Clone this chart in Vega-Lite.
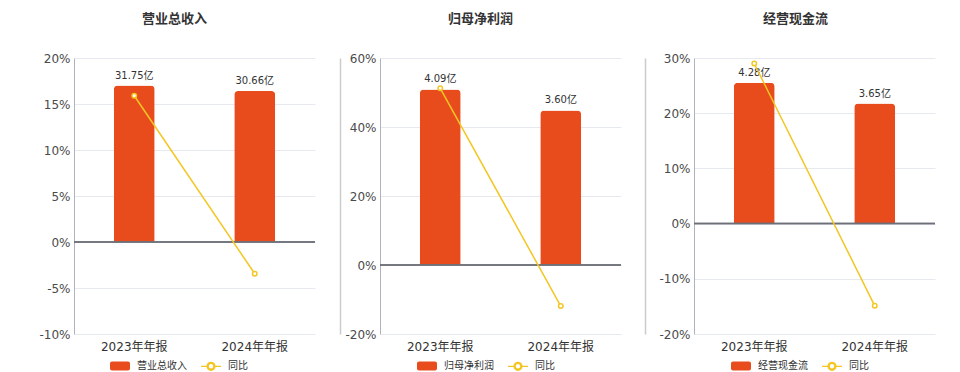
{
  "$schema": "https://vega.github.io/schema/vega-lite/v6.json",
  "autosize": {"type": "pad"},
  "padding": {"left": 38, "top": 13, "right": 0, "bottom": 0},
  "config": {
    "font": "DejaVu Sans, Noto Sans CJK SC",
    "view": {"stroke": null},
    "concat": {"spacing": 4}
  },
  "resolve": {"scale": {"color": "independent", "x": "independent", "y": "independent"}, "legend": {"color": "independent"}},
  "hconcat": [
    {
      "title": {"text": "营业总收入", "fontSize": 13, "fontWeight": "bold", "color": "#333", "offset": 26, "dx": -20},
      "width": 241, "height": 276,
      "data": {"values": [
        {"period": "2023年年报", "value": 31.75, "label": "31.75亿", "yoy": 15.9, "series": "营业总收入"},
        {"period": "2024年年报", "value": 30.66, "label": "30.66亿", "yoy": -3.45, "series": "营业总收入"}
      ]},
      "resolve": {"scale": {"y": "independent"}},
      "layer": [
        {"layer": [
          {
            "mark": {"type": "bar", "cornerRadiusTopLeft": 4, "cornerRadiusTopRight": 4, "width": {"band": 0.34}},
            "encoding": {
              "x": {"field": "period", "type": "nominal", "scale": {"paddingInner": 0, "paddingOuter": 0}, "axis": {"orient": "bottom", "title": null, "labelAngle": 0, "labelFontSize": 12, "labelColor": "#333", "labelPadding": 7, "domain": false, "ticks": false, "grid": false}},
              "y": {"field": "value", "type": "quantitative", "scale": {"domain": [-18.68, 37.35], "nice": false, "zero": false}, "axis": {"orient": "right", "labels": false, "ticks": false, "grid": false, "domain": true, "domainColor": "#cccccc", "domainWidth": 1.5, "offset": 25, "title": null}},
              "color": {
                "field": "series", "type": "nominal",
                "scale": {"domain": ["营业总收入", "同比"], "range": ["#e84c1d", "#f3c623"]},
                "legend": {
                  "orient": "none", "legendX": 35, "legendY": 297, "direction": "horizontal", "title": null,
                  "labelFontSize": 10, "labelColor": "#333", "symbolSize": 400, "labelOffset": 6, "columnPadding": 11, "padding": 0,
                  "encode": {
                    "symbols": {
                      "update": {
                        "shape": {"signal": "datum.label === '同比' ? 'M-1,0H-0.42M0.42,0H1M0.4,0A0.4,0.4,0,1,1,-0.4,0A0.4,0.4,0,1,1,0.4,0ZM0.28,0A0.28,0.28,0,1,0,-0.28,0A0.28,0.28,0,1,0,0.28,0Z' : 'M-0.8,-0.45H0.8A0.2,0.2,0,0,1,1,-0.25V0.25A0.2,0.2,0,0,1,0.8,0.45H-0.8A0.2,0.2,0,0,1,-1,0.25V-0.25A0.2,0.2,0,0,1,-0.8,-0.45Z'"},
                        "fill": {"signal": "datum.label === '同比' ? '#f3c623' : '#e84c1d'"},
                        "stroke": {"signal": "datum.label === '同比' ? '#f3c623' : 'transparent'"},
                        "strokeWidth": {"value": 1.2},
                        "opacity": {"value": 1}
                      }
                    }
                  }
                }
              }
            }
          },
          {
            "mark": {"type": "text", "baseline": "bottom", "dy": -5, "fontSize": 10, "color": "#333"},
            "encoding": {
              "x": {"field": "period", "type": "nominal"},
              "y": {"field": "value", "type": "quantitative"},
              "text": {"field": "label"}
            }
          }
        ]},
        {"layer": [
          {
            "mark": {"type": "rule", "color": "#6e7079", "strokeWidth": 1.5},
            "encoding": {
              "y": {
                "datum": 0, "type": "quantitative",
                "scale": {"domain": [-10, 20], "nice": false},
                "axis": {"orient": "left", "values": [-10, -5, 0, 5, 10, 15, 20], "labelExpr": "datum.value + '%'", "labelFontSize": 12, "labelColor": "#4a4a4a", "labelPadding": 4, "ticks": false, "domain": true, "domainColor": "#b0b3bd", "grid": true, "gridColor": "#e6e9f0", "title": null, "minExtent": 36, "maxExtent": 36}
              }
            }
          },
          {
            "mark": {"type": "line", "color": "#f3c623", "strokeWidth": 1.5},
            "encoding": {
              "x": {"field": "period", "type": "nominal"},
              "y": {"field": "yoy", "type": "quantitative"}
            }
          },
          {
            "mark": {"type": "point", "shape": "circle", "filled": true, "fill": "#ffffff", "stroke": "#f3c623", "strokeWidth": 1.5, "size": 20, "opacity": 1},
            "encoding": {
              "x": {"field": "period", "type": "nominal"},
              "y": {"field": "yoy", "type": "quantitative"}
            }
          }
        ]}
      ]
    },
    {
      "title": {"text": "归母净利润", "fontSize": 13, "fontWeight": "bold", "color": "#333", "offset": 26, "dx": -20},
      "width": 241, "height": 276,
      "data": {"values": [
        {"period": "2023年年报", "value": 4.09, "label": "4.09亿", "yoy": 51.2, "series": "归母净利润"},
        {"period": "2024年年报", "value": 3.60, "label": "3.60亿", "yoy": -11.9, "series": "归母净利润"}
      ]},
      "resolve": {"scale": {"y": "independent"}},
      "layer": [
        {"layer": [
          {
            "mark": {"type": "bar", "cornerRadiusTopLeft": 4, "cornerRadiusTopRight": 4, "width": {"band": 0.34}},
            "encoding": {
              "x": {"field": "period", "type": "nominal", "scale": {"paddingInner": 0, "paddingOuter": 0}, "axis": {"orient": "bottom", "title": null, "labelAngle": 0, "labelFontSize": 12, "labelColor": "#333", "labelPadding": 7, "domain": false, "ticks": false, "grid": false}},
              "y": {"field": "value", "type": "quantitative", "scale": {"domain": [-1.607, 4.821], "nice": false, "zero": false}, "axis": {"orient": "right", "labels": false, "ticks": false, "grid": false, "domain": true, "domainColor": "#cccccc", "domainWidth": 1.5, "offset": 24, "title": null}},
              "color": {
                "field": "series", "type": "nominal",
                "scale": {"domain": ["归母净利润", "同比"], "range": ["#e84c1d", "#f3c623"]},
                "legend": {
                  "orient": "none", "legendX": 36, "legendY": 297, "direction": "horizontal", "title": null,
                  "labelFontSize": 10, "labelColor": "#333", "symbolSize": 400, "labelOffset": 6, "columnPadding": 11, "padding": 0,
                  "encode": {
                    "symbols": {
                      "update": {
                        "shape": {"signal": "datum.label === '同比' ? 'M-1,0H-0.42M0.42,0H1M0.4,0A0.4,0.4,0,1,1,-0.4,0A0.4,0.4,0,1,1,0.4,0ZM0.28,0A0.28,0.28,0,1,0,-0.28,0A0.28,0.28,0,1,0,0.28,0Z' : 'M-0.8,-0.45H0.8A0.2,0.2,0,0,1,1,-0.25V0.25A0.2,0.2,0,0,1,0.8,0.45H-0.8A0.2,0.2,0,0,1,-1,0.25V-0.25A0.2,0.2,0,0,1,-0.8,-0.45Z'"},
                        "fill": {"signal": "datum.label === '同比' ? '#f3c623' : '#e84c1d'"},
                        "stroke": {"signal": "datum.label === '同比' ? '#f3c623' : 'transparent'"},
                        "strokeWidth": {"value": 1.2},
                        "opacity": {"value": 1}
                      }
                    }
                  }
                }
              }
            }
          },
          {
            "mark": {"type": "text", "baseline": "bottom", "dy": -5, "fontSize": 10, "color": "#333"},
            "encoding": {
              "x": {"field": "period", "type": "nominal"},
              "y": {"field": "value", "type": "quantitative"},
              "text": {"field": "label"}
            }
          }
        ]},
        {"layer": [
          {
            "mark": {"type": "rule", "color": "#6e7079", "strokeWidth": 1.5},
            "encoding": {
              "y": {
                "datum": 0, "type": "quantitative",
                "scale": {"domain": [-20, 60], "nice": false},
                "axis": {"orient": "left", "values": [-20, 0, 20, 40, 60], "labelExpr": "datum.value + '%'", "labelFontSize": 12, "labelColor": "#4a4a4a", "labelPadding": 4, "ticks": false, "domain": true, "domainColor": "#b0b3bd", "grid": true, "gridColor": "#e6e9f0", "title": null, "minExtent": 36, "maxExtent": 36}
              }
            }
          },
          {
            "mark": {"type": "line", "color": "#f3c623", "strokeWidth": 1.5},
            "encoding": {
              "x": {"field": "period", "type": "nominal"},
              "y": {"field": "yoy", "type": "quantitative"}
            }
          },
          {
            "mark": {"type": "point", "shape": "circle", "filled": true, "fill": "#ffffff", "stroke": "#f3c623", "strokeWidth": 1.5, "size": 20, "opacity": 1},
            "encoding": {
              "x": {"field": "period", "type": "nominal"},
              "y": {"field": "yoy", "type": "quantitative"}
            }
          }
        ]}
      ]
    },
    {
      "title": {"text": "经营现金流", "fontSize": 13, "fontWeight": "bold", "color": "#333", "offset": 26, "dx": -19},
      "width": 241, "height": 276,
      "data": {"values": [
        {"period": "2023年年报", "value": 4.28, "label": "4.28亿", "yoy": 29.0, "series": "经营现金流"},
        {"period": "2024年年报", "value": 3.65, "label": "3.65亿", "yoy": -14.9, "series": "经营现金流"}
      ]},
      "resolve": {"scale": {"y": "independent"}},
      "layer": [
        {"layer": [
          {
            "mark": {"type": "bar", "cornerRadiusTopLeft": 4, "cornerRadiusTopRight": 4, "width": {"band": 0.34}},
            "encoding": {
              "x": {"field": "period", "type": "nominal", "scale": {"paddingInner": 0, "paddingOuter": 0}, "axis": {"orient": "bottom", "title": null, "labelAngle": 0, "labelFontSize": 12, "labelColor": "#333", "labelPadding": 7, "domain": false, "ticks": false, "grid": false}},
              "y": {"field": "value", "type": "quantitative", "scale": {"domain": [-3.357, 5.035], "nice": false, "zero": false}, "axis": null},
              "color": {
                "field": "series", "type": "nominal",
                "scale": {"domain": ["经营现金流", "同比"], "range": ["#e84c1d", "#f3c623"]},
                "legend": {
                  "orient": "none", "legendX": 36, "legendY": 297, "direction": "horizontal", "title": null,
                  "labelFontSize": 10, "labelColor": "#333", "symbolSize": 400, "labelOffset": 6, "columnPadding": 11, "padding": 0,
                  "encode": {
                    "symbols": {
                      "update": {
                        "shape": {"signal": "datum.label === '同比' ? 'M-1,0H-0.42M0.42,0H1M0.4,0A0.4,0.4,0,1,1,-0.4,0A0.4,0.4,0,1,1,0.4,0ZM0.28,0A0.28,0.28,0,1,0,-0.28,0A0.28,0.28,0,1,0,0.28,0Z' : 'M-0.8,-0.45H0.8A0.2,0.2,0,0,1,1,-0.25V0.25A0.2,0.2,0,0,1,0.8,0.45H-0.8A0.2,0.2,0,0,1,-1,0.25V-0.25A0.2,0.2,0,0,1,-0.8,-0.45Z'"},
                        "fill": {"signal": "datum.label === '同比' ? '#f3c623' : '#e84c1d'"},
                        "stroke": {"signal": "datum.label === '同比' ? '#f3c623' : 'transparent'"},
                        "strokeWidth": {"value": 1.2},
                        "opacity": {"value": 1}
                      }
                    }
                  }
                }
              }
            }
          },
          {
            "mark": {"type": "text", "baseline": "bottom", "dy": -5, "fontSize": 10, "color": "#333"},
            "encoding": {
              "x": {"field": "period", "type": "nominal"},
              "y": {"field": "value", "type": "quantitative"},
              "text": {"field": "label"}
            }
          }
        ]},
        {"layer": [
          {
            "mark": {"type": "rule", "color": "#6e7079", "strokeWidth": 1.5},
            "encoding": {
              "y": {
                "datum": 0, "type": "quantitative",
                "scale": {"domain": [-20, 30], "nice": false},
                "axis": {"orient": "left", "values": [-20, -10, 0, 10, 20, 30], "labelExpr": "datum.value + '%'", "labelFontSize": 12, "labelColor": "#4a4a4a", "labelPadding": 4, "ticks": false, "domain": true, "domainColor": "#b0b3bd", "grid": true, "gridColor": "#e6e9f0", "title": null, "minExtent": 45, "maxExtent": 45}
              }
            }
          },
          {
            "mark": {"type": "line", "color": "#f3c623", "strokeWidth": 1.5},
            "encoding": {
              "x": {"field": "period", "type": "nominal"},
              "y": {"field": "yoy", "type": "quantitative"}
            }
          },
          {
            "mark": {"type": "point", "shape": "circle", "filled": true, "fill": "#ffffff", "stroke": "#f3c623", "strokeWidth": 1.5, "size": 20, "opacity": 1},
            "encoding": {
              "x": {"field": "period", "type": "nominal"},
              "y": {"field": "yoy", "type": "quantitative"}
            }
          }
        ]}
      ]
    }
  ]
}
